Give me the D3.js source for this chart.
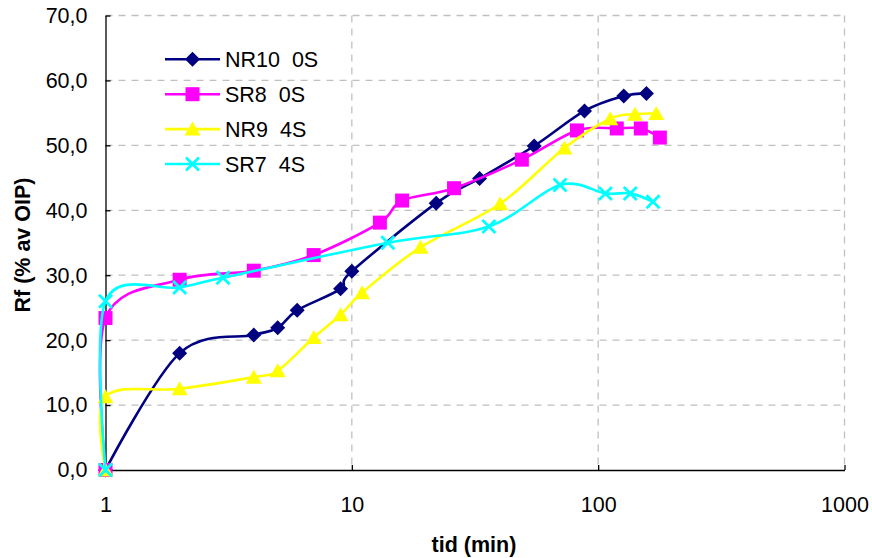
<!DOCTYPE html>
<html>
<head>
<meta charset="utf-8">
<script src="https://cdn.jsdelivr.net/npm/d3@7"></script>
<style>
    body { margin: 0; background: white; }
    text { font-family: Arial, "Liberation Sans", sans-serif; fill: black; }
    .tick text { font-size: 21.5px; }
    .title { font-size: 21.5px; font-weight: bold; }
    .legend text { font-size: 21.5px; white-space: pre; }
</style>
</head>
<body>
<svg id="chart"></svg>
<script>

// data
var seriesNames = ["NR10  0S", "SR8  0S", "NR9  4S", "SR7  4S"]
var seriesColors = ["#000080", "#FF00FF", "#FFFF00", "#00FFFF"]
var seriesMarkers = ["diamond", "square", "triangle", "cross"]

var nr10Time = [1, 2, 4, 5, 6, 9, 10, 22, 33, 55, 88, 127, 157]
var nr10Rf   = [0, 18.0, 20.8, 21.9, 24.6, 27.9, 30.6, 41.1, 44.9, 49.9, 55.3, 57.6, 58.0]

var sr8Time = [1, 1, 2, 4, 7, 13, 16, 26, 49, 82, 119, 149, 178]
var sr8Rf   = [0, 23.4, 29.3, 30.7, 33.1, 38.1, 41.5, 43.4, 47.8, 52.3, 52.6, 52.6, 51.2]

var nr9Time = [1, 1, 2, 4, 5, 7, 9, 11, 19, 40, 73, 112, 141, 172]
var nr9Rf   = [0, 11.3, 12.5, 14.3, 15.3, 20.4, 23.9, 27.3, 34.3, 41.0, 49.6, 54.1, 54.8, 54.9]

var sr7Time = [1, 1, 2, 3, 14, 36, 70, 107, 135, 167]
var sr7Rf   = [0, 26.0, 28.1, 29.6, 35.0, 37.5, 43.9, 42.6, 42.6, 41.3]

var xTicks = [1, 10, 100, 1000]
var yTicks = [0, 10, 20, 30, 40, 50, 60, 70]

var xTitle = "tid (min)"
var yTitle = "Rf (% av OIP)"


var initGraph = function()
{
    var screen = {width: 872, height: 558}
    var margins = {left: 105.5, right: 27.5, top: 15.5, bottom: 88}

    var graph =
        {
            width: screen.width - margins.left - margins.right,
            height: screen.height - margins.top - margins.bottom
        }

    var svg = d3.select("#chart")
        .attr("width", screen.width)
        .attr("height", screen.height)

    var target = svg.append("g")
        .attr("transform", "translate(" + margins.left + "," + margins.top + ")")

    var xScale = d3.scaleLog()
        .domain([1, 1000])
        .range([0, graph.width])

    var yScale = d3.scaleLinear()
        .domain([0, 70])
        .range([graph.height, 0])

    var series = [
        {time: nr10Time, rf: nr10Rf},
        {time: sr8Time, rf: sr8Rf},
        {time: nr9Time, rf: nr9Rf},
        {time: sr7Time, rf: sr7Rf}
    ]

    drawGrid(target, graph, xScale, yScale)
    drawAxis(target, graph, xScale, yScale)
    drawLines(target, series, xScale, yScale)
    drawLegend(svg)
    drawLabels(svg, graph, margins)
}


var drawGrid = function(target, graph, xScale, yScale)
{
    var grid = target.append("g")

    grid.selectAll(".hgrid")
        .data(yTicks.filter(function(d) { return d > 0 }))
        .enter()
        .append("line")
        .attr("x1", 0)
        .attr("x2", graph.width)
        .attr("y1", function(d) { return yScale(d) })
        .attr("y2", function(d) { return yScale(d) })
        .attr("stroke", "#c0c0c0")
        .attr("stroke-width", 1.3)
        .attr("stroke-dasharray", "7,6")

    grid.selectAll(".vgrid")
        .data(xTicks.filter(function(d) { return d > 1 }))
        .enter()
        .append("line")
        .attr("x1", function(d) { return xScale(d) })
        .attr("x2", function(d) { return xScale(d) })
        .attr("y1", 0)
        .attr("y2", graph.height)
        .attr("stroke", "#c0c0c0")
        .attr("stroke-width", 1.3)
        .attr("stroke-dasharray", "7,6")
}


var drawAxis = function(target, graph, xScale, yScale)
{
    var xAxis = d3.axisBottom(xScale)
        .tickValues(xTicks)
        .tickFormat(d3.format("d"))
        .tickSizeInner(-5)
        .tickSizeOuter(0)
        .tickPadding(27)

    var yAxis = d3.axisLeft(yScale)
        .tickValues(yTicks)
        .tickFormat(function(d) { return d3.format(".1f")(d).replace(".", ",") })
        .tickSizeInner(-5)
        .tickSizeOuter(0)
        .tickPadding(18)

    var gx = target.append("g")
        .attr("transform", "translate(0," + graph.height + ")")
        .call(xAxis)

    var gy = target.append("g")
        .call(yAxis)

    gx.selectAll("path, line").attr("stroke", "black").attr("stroke-width", 1.3)
    gy.selectAll("path, line").attr("stroke", "black").attr("stroke-width", 1.3)
    gx.selectAll("text").attr("font-family", null).attr("font-size", null)
    gy.selectAll("text").attr("font-family", null).attr("font-size", null)
    gx.attr("font-family", null).attr("font-size", null)
    gy.attr("font-family", null).attr("font-size", null)
}


var markerPath = function(kind)
{
    if (kind == "diamond") return "M0,-7.5L7.5,0L0,7.5L-7.5,0Z"
    if (kind == "square") return "M-7,-7L7,-7L7,7L-7,7Z"
    if (kind == "triangle") return "M0,-7.5L8,6.5L-8,6.5Z"
    return "M-6.5,-6.5L6.5,6.5M6.5,-6.5L-6.5,6.5"
}

var drawMarker = function(target, kind, color, x, y)
{
    var m = target.append("path")
        .attr("d", markerPath(kind))
        .attr("transform", "translate(" + x + "," + y + ")")

    if (kind == "cross")
    {
        m.attr("fill", "none")
            .attr("stroke", color)
            .attr("stroke-width", 2.8)
    }
    else
    {
        m.attr("fill", color)
    }
}


var drawLines = function(target, series, xScale, yScale)
{
    var line = d3.line()
        .x(function(d) { return xScale(d.t) })
        .y(function(d) { return yScale(d.v) })
        .curve(d3.curveCardinal.tension(0))

    series.forEach(function(s, i)
    {
        var points = s.time.map(function(t, j) { return {t: t, v: s.rf[j]} })
        var g = target.append("g")

        g.append("path")
            .datum(points)
            .attr("d", line)
            .attr("fill", "none")
            .attr("stroke", seriesColors[i])
            .attr("stroke-width", 2.6)

        points.forEach(function(p)
        {
            drawMarker(g, seriesMarkers[i], seriesColors[i], xScale(p.t), yScale(p.v))
        })
    })
}


var drawLegend = function(svg)
{
    var legend = svg.append("g")
        .classed("legend", true)

    seriesNames.forEach(function(name, i)
    {
        var y = 59.3 + i * 34.9

        legend.append("line")
            .attr("x1", 165)
            .attr("x2", 220)
            .attr("y1", y)
            .attr("y2", y)
            .attr("stroke", seriesColors[i])
            .attr("stroke-width", 2.6)

        drawMarker(legend, seriesMarkers[i], seriesColors[i], 192.5, y)

        legend.append("text")
            .attr("x", 225)
            .attr("y", y + 7.6)
            .text(name)
    })
}


var drawLabels = function(svg, graph, margins)
{
    var labels = svg.append("g")
        .classed("labels", true)

    labels.append("text")
        .text(xTitle)
        .classed("title", true)
        .attr("text-anchor", "middle")
        .attr("x", 474)
        .attr("y", 552)

    labels.append("g")
        .attr("transform", "translate(30,245)")
        .append("text")
        .text(yTitle)
        .classed("title", true)
        .attr("text-anchor", "middle")
        .attr("transform", "rotate(270)")
}


initGraph()

</script>
</body>
</html>
